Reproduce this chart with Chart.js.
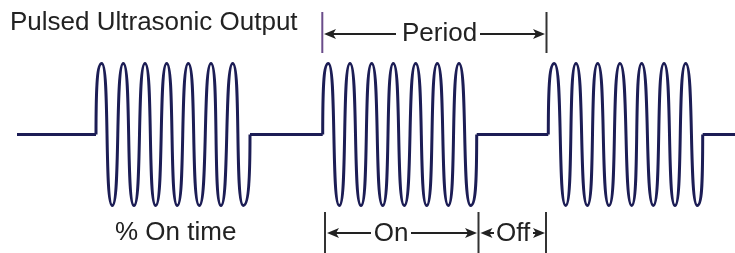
<!DOCTYPE html>
<html lang="en">
<head>
    <meta charset="UTF-8">
    <title>Pulsed Ultrasonic Output</title>
    <script src="https://cdn.jsdelivr.net/npm/chart.js"></script>
    <style>
        html, body { margin: 0; padding: 0; background: #fff; }
        #wrap { width: 735px; height: 253px; position: relative; }
    </style>
</head>
<body>
    <div id="wrap"><canvas id="pulseChart"></canvas></div>

    <script>
        // Pulse timing (x in picture units)
        const burstStarts = [96, 322.7, 548.3];
        const burstEnds = [250, 476.7, 702.7];
        const peaks = [
            [101.7, 123.3, 145, 166.7, 188.3, 211, 232.7],
            [328.3, 350, 371.7, 393.3, 415.7, 437.3, 459],
            [554.3, 576, 597.7, 620, 641.7, 664, 685.7]
        ];
        const troughs = [
            [112.3, 134, 155.7, 177.3, 199.3, 221, 243.3],
            [339.3, 361, 382.7, 404.3, 426.7, 448.3, 470.7],
            [565.7, 587.3, 609, 631.7, 653.3, 675, 697.3]
        ];
        const lineStart = 17;
        const lineEnd = 735;

        const waveColor = '#1c1d55';
        const inkColor = '#222222';

        // Oscillation points: start at baseline, peak/trough pairs, back to baseline
        const wavePoints = [];
        burstStarts.forEach((start, b) => {
            wavePoints.push({ x: start, y: 0 });
            peaks[b].forEach((px, i) => {
                wavePoints.push({ x: px, y: 1 });
                wavePoints.push({ x: troughs[b][i], y: -1 });
            });
            wavePoints.push({ x: burstEnds[b], y: 0 });
            wavePoints.push({ x: burstEnds[b], y: null });
        });

        // Flat "off" parts of the signal
        const offEdges = [lineStart, ...burstStarts.flatMap((s, b) => [s, burstEnds[b]]), lineEnd];
        const basePoints = [];
        for (let i = 0; i < offEdges.length; i += 2) {
            basePoints.push({ x: offEdges[i], y: 0 });
            basePoints.push({ x: offEdges[i + 1], y: 0 });
            basePoints.push({ x: offEdges[i + 1], y: null });
        }

        // Keep the tops/bottoms flat and the rise from the baseline vertical
        const roundPeaks = {
            id: 'roundPeaks',
            beforeDatasetDraw(chart, args) {
                if (args.index !== 1) return;
                const meta = args.meta;
                meta.dataset.updateControlPoints(chart.chartArea, 'x');
                meta.data.forEach((pt, i) => {
                    const v = wavePoints[i].y;
                    if (v === null) return;
                    if (v !== 0) {
                        pt.cp1y = pt.y;
                        pt.cp2y = pt.y;
                    } else {
                        pt.cp1x = pt.x;
                        pt.cp2x = pt.x;
                    }
                });
            }
        };

        // Arrow helper for the dimension lines
        function arrow(ctx, from, to, y) {
            const dir = Math.sign(to - from);
            ctx.beginPath();
            ctx.moveTo(from, y);
            ctx.lineTo(to - dir * 8, y);
            ctx.stroke();
            ctx.beginPath();
            ctx.moveTo(to, y);
            ctx.lineTo(to - dir * 12, y - 5);
            ctx.lineTo(to - dir * 9, y);
            ctx.lineTo(to - dir * 12, y + 5);
            ctx.closePath();
            ctx.fill();
        }

        function vline(ctx, x, y1, y2, color) {
            ctx.strokeStyle = color;
            ctx.beginPath();
            ctx.moveTo(x, y1);
            ctx.lineTo(x, y2);
            ctx.stroke();
        }

        const annotations = {
            id: 'annotations',
            afterDraw(chart) {
                const ctx = chart.ctx;
                const xs = chart.scales.x;
                const X = v => xs.getPixelForValue(v);
                ctx.save();
                ctx.font = '26px "Liberation Sans", Arial, sans-serif';
                ctx.fillStyle = inkColor;
                ctx.textBaseline = 'alphabetic';
                ctx.fillText('Pulsed Ultrasonic Output', 10, 30);

                ctx.lineWidth = 2;
                // Period
                vline(ctx, X(322.3), 12, 53, '#6a4c8a');
                vline(ctx, X(546.5), 12, 53, '#333333');
                ctx.strokeStyle = inkColor;
                arrow(ctx, X(396), X(324), 34);
                arrow(ctx, X(480), X(545), 34);
                ctx.textAlign = 'left';
                ctx.fillText('Period', X(402), 41);

                // On / Off
                vline(ctx, X(325), 212, 253, '#333333');
                vline(ctx, X(478.5), 212, 253, '#333333');
                vline(ctx, X(546), 212, 253, '#333333');
                ctx.strokeStyle = inkColor;
                arrow(ctx, X(371), X(327), 233);
                arrow(ctx, X(411), X(477), 233);
                arrow(ctx, X(494), X(480.5), 233);
                arrow(ctx, X(533), X(545), 233);
                ctx.textAlign = 'center';
                ctx.fillText('On', X(391), 241);
                ctx.textAlign = 'left';
                ctx.fillText('Off', X(496), 241);
                ctx.fillText('% On time', X(115), 240);
                ctx.restore();
            }
        };

        new Chart(document.getElementById('pulseChart'), {
            type: 'line',
            data: {
                datasets: [
                    {
                        data: basePoints,
                        borderColor: waveColor,
                        borderWidth: 3,
                        pointRadius: 0,
                        tension: 0,
                        spanGaps: false,
                        borderJoinStyle: 'miter'
                    },
                    {
                        data: wavePoints,
                        borderColor: waveColor,
                        borderWidth: 3,
                        pointRadius: 0,
                        tension: 0.75,
                        spanGaps: false
                    }
                ]
            },
            options: {
                responsive: true,
                maintainAspectRatio: false,
                animation: false,
                layout: { padding: 0 },
                plugins: { legend: { display: false }, tooltip: { enabled: false } },
                scales: {
                    x: { type: 'linear', min: 0, max: 735, display: false },
                    y: { min: -1.669, max: 1.894, display: false }
                }
            },
            plugins: [roundPeaks, annotations]
        });
    </script>
</body>
</html>
